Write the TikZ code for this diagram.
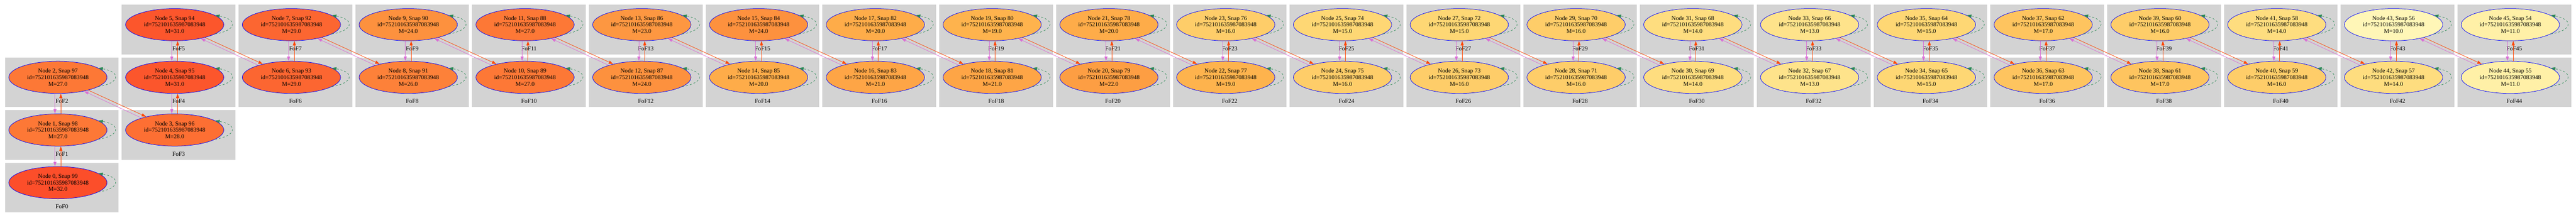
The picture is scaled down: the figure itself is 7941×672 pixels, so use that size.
\documentclass[tikz,border=0pt]{standalone}
\usepackage{fontspec}
\setmainfont{Liberation Serif}
\usetikzlibrary{shapes.geometric,arrows.meta}

\definecolor{fofgray}{HTML}{D3D3D3}
\definecolor{snaporchid}{HTML}{DA70D6}
\definecolor{snapred}{HTML}{FF4500}
\definecolor{snapgreen}{HTML}{2E8B57}
\definecolor{m10}{HTML}{FFF6B7}
\definecolor{m11}{HTML}{FFF0A7}
\definecolor{m13}{HTML}{FEE38B}
\definecolor{m14}{HTML}{FEDD7F}
\definecolor{m15}{HTML}{FED774}
\definecolor{m16}{HTML}{FECD69}
\definecolor{m17}{HTML}{FEC45F}
\definecolor{m19}{HTML}{FEB34D}
\definecolor{m20}{HTML}{FEAC49}
\definecolor{m21}{HTML}{FEA546}
\definecolor{m22}{HTML}{FD9E43}
\definecolor{m23}{HTML}{FD9741}
\definecolor{m24}{HTML}{FD913E}
\definecolor{m26}{HTML}{FD8139}
\definecolor{m27}{HTML}{FD7836}
\definecolor{m28}{HTML}{FD6F33}
\definecolor{m29}{HTML}{FC6631}
\definecolor{m31}{HTML}{FC562C}
\definecolor{m32}{HTML}{FC4E2A}

\tikzset{
	snapnode/.style={ellipse, draw=blue, line width=1.2bp, minimum width=303bp, minimum height=99.5bp, inner sep=0pt, align=center, font=\fontsize{18.4}{20.3}\selectfont},
	fofbox/.style={fill=fofgray},
	foflabel/.style={inner sep=0pt, font=\fontsize{18.4}{20.3}\selectfont},
	descedge/.style={snaporchid, line width=1.2bp, -{Triangle[length=14bp,width=9.5bp]}},
	progedge/.style={snapred, line width=1.2bp, -{Triangle[length=14bp,width=9.5bp]}},
	selfedge/.style={snapgreen, line width=1.2bp, dash pattern=on 6bp off 6bp, -{Triangle[length=14bp,width=9.5bp]}}
}

\begin{document}
\begin{tikzpicture}[x=1bp, y=-1bp]
	\fill[white] (0,0) rectangle (7941,672);
	\useasboundingbox (0,0) rectangle (7941,672);

	\foreach \n/\col/\row/\mass [evaluate=\n as \snap using int(99-\n)] in {0/0/3/32, 1/0/2/27, 2/0/1/27, 3/1/2/28, 4/1/1/31, 5/1/0/31, 6/2/1/29, 7/2/0/29, 8/3/1/26, 9/3/0/24, 10/4/1/27, 11/4/0/27, 12/5/1/24, 13/5/0/23, 14/6/1/20, 15/6/0/24, 16/7/1/21, 17/7/0/20, 18/8/1/21, 19/8/0/19, 20/9/1/22, 21/9/0/20, 22/10/1/19, 23/10/0/16, 24/11/1/16, 25/11/0/15, 26/12/1/16, 27/12/0/15, 28/13/1/16, 29/13/0/16, 30/14/1/14, 31/14/0/14, 32/15/1/13, 33/15/0/13, 34/16/1/15, 35/16/0/15, 36/17/1/17, 37/17/0/17, 38/18/1/17, 39/18/0/16, 40/19/1/16, 41/19/0/14, 42/20/1/14, 43/20/0/10, 44/21/1/11, 45/21/0/11} {
		\fill[fofbox] (15.5+360*\col, 15+162.7*\row) rectangle ++(350.5,153);
		\node[foflabel] (fof\n) at (190.75+360*\col, 150.5+162.7*\row) {FoF\n};
		\node[snapnode, fill=m\mass] (n\n) at (178.5+360*\col, 76.2+162.7*\row) {Node \n, Snap \snap\\id=752101635987083948\\M=\mass.0};
	}

	\foreach \a/\b in {2/1, 1/0, 4/3, 5/4, 7/6, 9/8, 11/10, 13/12, 15/14, 17/16, 19/18, 21/20, 23/22, 25/24, 27/26, 29/28, 31/30, 33/32, 35/34, 37/36, 39/38, 41/40, 43/42, 45/44} {
		\draw[descedge] ([xshift=-9bp]n\a.south) -- ([xshift=-9bp]n\b.north);
		\draw[progedge] ([xshift=9bp]n\b.north) -- ([xshift=9bp]n\a.south);
	}

	\foreach \a/\b in {2/3, 5/6, 7/8, 9/10, 11/12, 13/14, 15/16, 17/18, 19/20, 21/22, 23/24, 25/26, 27/28, 29/30, 31/32, 33/34, 35/36, 37/38, 39/40, 41/42, 43/44} {
		\draw[progedge] (n\a.-23.5) -- (n\b.155.2);
		\draw[descedge] (n\b.160.4) -- (n\a.-28.3);
	}

	\foreach \n in {0,...,45}
		\draw[selfedge] (n\n.-13) .. controls +(69,-12) and +(69,12) .. (n\n.13);
\end{tikzpicture}
\end{document}
